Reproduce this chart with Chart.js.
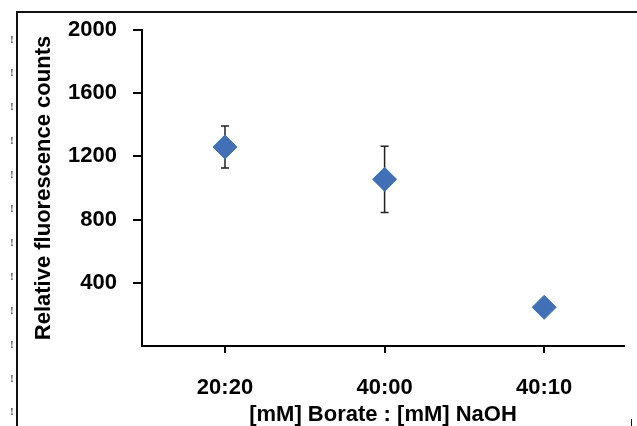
<!DOCTYPE html>
<html lang="en">
<head>
    <meta charset="UTF-8">
    <title>Relative fluorescence counts vs Borate : NaOH</title>
    <style>
        body {
            margin: 0;
            background-color: #ffffff;
        }
        .chart-wrapper {
            position: relative;
            width: 637px;
            height: 426px;
        }
    </style>
    <script src="https://cdn.jsdelivr.net/npm/chart.js"></script>
</head>
<body>
    <div class="chart-wrapper">
        <canvas id="scatterChart"></canvas>
    </div>

    <script>
        const categories = ['20:20', '40:00', '40:10'];
        const counts = [1260, 1055, 245];
        const countErrors = [133, 210, 0];
        const yTicks = [0, 400, 800, 1200, 1600, 2000];

        const markerColor = '#4170b7';
        const labelFont = { family: "'Liberation Sans', Arial, sans-serif", size: 22, weight: 'bold' };

        // error bars, drawn under the diamonds
        const errorBars = {
            id: 'errorBars',
            beforeDatasetsDraw(chart) {
                const ctx = chart.ctx;
                const xs = chart.scales.x;
                const ys = chart.scales.y;
                ctx.save();
                ctx.strokeStyle = '#222';
                ctx.lineWidth = 1.5;
                counts.forEach(function(v, i) {
                    if (!countErrors[i]) return;
                    const x = xs.getPixelForValue(i + 1);
                    const top = ys.getPixelForValue(v + countErrors[i]);
                    const bot = ys.getPixelForValue(v - countErrors[i]);
                    ctx.beginPath();
                    ctx.moveTo(x, top);
                    ctx.lineTo(x, bot);
                    ctx.moveTo(x - 4, top);
                    ctx.lineTo(x + 4, top);
                    ctx.moveTo(x - 4, bot);
                    ctx.lineTo(x + 4, bot);
                    ctx.stroke();
                });
                ctx.restore();
            }
        };

        // page frame and margin marks around the figure
        const pageFrame = {
            id: 'pageFrame',
            afterDraw(chart) {
                const ctx = chart.ctx;
                ctx.save();
                ctx.strokeStyle = '#111';
                ctx.lineWidth = 2;
                ctx.beginPath();
                ctx.moveTo(17, 426);
                ctx.lineTo(17, 12);
                ctx.lineTo(637, 12);
                ctx.stroke();
                ctx.lineWidth = 1;
                ctx.beginPath();
                ctx.moveTo(631.5, 419);
                ctx.lineTo(631.5, 426);
                ctx.stroke();
                ctx.fillStyle = '#444';
                ctx.font = "bold 10px 'Liberation Serif', serif";
                ctx.textAlign = 'center';
                ctx.textBaseline = 'middle';
                for (let i = 0; i < 12; i++) {
                    ctx.fillText('!', 12, 40 + i * 33.9);
                }
                ctx.restore();
            }
        };

        const chart = new Chart(document.getElementById('scatterChart'), {
            type: 'scatter',
            data: {
                datasets: [{
                    data: counts.map(function(v, i) { return { x: i + 1, y: v }; }),
                    pointStyle: 'rectRot',
                    pointRadius: 12,
                    pointHoverRadius: 12,
                    backgroundColor: markerColor,
                    borderColor: markerColor,
                    borderWidth: 1
                }]
            },
            options: {
                responsive: true,
                maintainAspectRatio: false,
                animation: false,
                layout: {
                    padding: { top: 30, right: 8, bottom: -2, left: 0 }
                },
                plugins: {
                    legend: { display: false },
                    tooltip: { enabled: false }
                },
                scales: {
                    x: {
                        type: 'linear',
                        min: 0.48,
                        max: 3.5,
                        afterBuildTicks: function(scale) {
                            scale.ticks = categories.map(function(c, i) { return { value: i + 1 }; });
                        },
                        afterFit: function(scale) {
                            scale.height = 82;
                            scale.paddingLeft = 0;
                            scale.paddingRight = 0;
                        },
                        ticks: {
                            callback: function(value) {
                                return categories[value - 1];
                            },
                            font: labelFont,
                            color: '#000',
                            padding: 22,
                            maxRotation: 0
                        },
                        grid: {
                            drawOnChartArea: false,
                            drawTicks: true,
                            tickLength: 7,
                            color: '#000',
                            lineWidth: 2
                        },
                        border: { display: true, color: '#000', width: 2 },
                        title: {
                            display: true,
                            text: '[mM] Borate : [mM] NaOH',
                            font: labelFont,
                            color: '#000',
                            padding: { top: 0, bottom: 0 }
                        }
                    },
                    y: {
                        min: 0,
                        max: 2000,
                        afterBuildTicks: function(scale) {
                            scale.ticks = yTicks.map(function(v) { return { value: v }; });
                        },
                        afterFit: function(scale) {
                            scale.width = 142;
                        },
                        ticks: {
                            callback: function(value) {
                                return value === 0 ? '' : value;
                            },
                            font: labelFont,
                            color: '#000',
                            padding: 16
                        },
                        grid: {
                            drawOnChartArea: false,
                            drawTicks: true,
                            tickLength: 9,
                            lineWidth: 2,
                            color: function(context) {
                                return context.tick && context.tick.value === 0 ? 'rgba(0,0,0,0)' : '#000';
                            }
                        },
                        border: { display: true, color: '#000', width: 2 },
                        title: {
                            display: true,
                            text: 'Relative fluorescence counts',
                            font: labelFont,
                            color: '#000',
                            padding: { top: 31, bottom: 0 }
                        }
                    }
                }
            },
            plugins: [errorBars, pageFrame]
        });
    </script>
</body>
</html>
